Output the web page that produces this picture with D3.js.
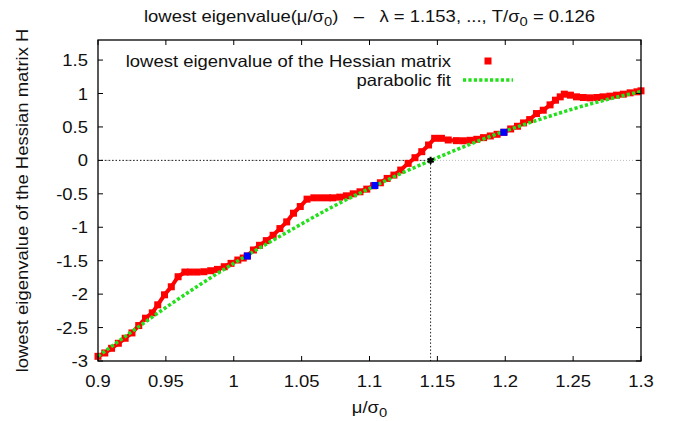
<!DOCTYPE html>
<html>
<head>
<meta charset="utf-8">
<script src="https://cdn.jsdelivr.net/npm/d3@7"></script>
<style>
  body { margin: 0; background: #fff; }
  svg { font-family: "Liberation Sans", Arial, sans-serif; }
</style>
</head>
<body>
<svg id="chart" width="683" height="421"></svg>
<script>
// eigenvalue samples (mu / sigma0 , lowest eigenvalue)
const muValues = [0.900, 0.905, 0.910, 0.915, 0.920, 0.925, 0.930, 0.935, 0.940, 0.944,
  0.949, 0.954, 0.959, 0.964, 0.968, 0.973, 0.978, 0.983, 0.988, 0.993,
  0.998, 1.003, 1.007, 1.010, 1.0145, 1.019, 1.024, 1.029, 1.034, 1.039,
  1.044, 1.049, 1.054, 1.059, 1.064, 1.069, 1.073, 1.078, 1.083, 1.088,
  1.093, 1.098, 1.103, 1.108, 1.113, 1.118, 1.123, 1.1285, 1.1335, 1.1385,
  1.1435, 1.148, 1.153, 1.158, 1.164, 1.169, 1.174, 1.179, 1.184, 1.189,
  1.194, 1.199, 1.204, 1.209, 1.2135, 1.218, 1.223, 1.228, 1.233, 1.237,
  1.2405, 1.2435, 1.248, 1.2525, 1.2575, 1.2625, 1.2675, 1.272, 1.277, 1.282,
  1.287, 1.292, 1.297, 1.300];
const eigenValues = [-2.93, -2.88, -2.81, -2.735, -2.66, -2.58, -2.47, -2.36, -2.28, -2.16,
  -2.01, -1.89, -1.74, -1.67, -1.67, -1.67, -1.665, -1.65, -1.63, -1.59,
  -1.54, -1.49, -1.46, -1.43, -1.34, -1.27, -1.20, -1.12, -1.02, -0.92,
  -0.79, -0.69, -0.58, -0.56, -0.56, -0.56, -0.56, -0.55, -0.53, -0.50,
  -0.47, -0.43, -0.38, -0.335, -0.27, -0.22, -0.145, -0.045, 0.04, 0.13,
  0.23, 0.33, 0.33, 0.305, 0.295, 0.293, 0.30, 0.315, 0.34, 0.365,
  0.39, 0.42, 0.47, 0.51, 0.56, 0.61, 0.70, 0.75, 0.83, 0.90,
  0.95, 0.99, 0.975, 0.95, 0.94, 0.935, 0.94, 0.95, 0.96, 0.975,
  0.99, 1.01, 1.025, 1.04];

// parabolic fit
const fitMu = [0.900, 0.925, 0.950, 0.975, 1.000, 1.025, 1.050, 1.075, 1.100,
  1.125, 1.150, 1.175, 1.200, 1.225, 1.250, 1.275, 1.300];
const fitValues = [-2.93, -2.56, -2.20, -1.86, -1.54, -1.24, -0.95, -0.67, -0.42,
  -0.18, 0.04, 0.25, 0.44, 0.61, 0.77, 0.91, 1.03];

// points used by the fit (blue) and the zero crossing (black)
const fitPointsMu = [1.010, 1.104, 1.199];
const fitPointsVal = [-1.43, -0.375, 0.42];
const zeroMu = 1.145;

const xTicks = [0.9, 0.95, 1, 1.05, 1.1, 1.15, 1.2, 1.25, 1.3];
const xTickLabels = ['0.9', '0.95', '1', '1.05', '1.1', '1.15', '1.2', '1.25', '1.3'];
const yTicks = [-3, -2.5, -2, -1.5, -1, -0.5, 0, 0.5, 1, 1.5];
const yTickLabels = ['-3', '-2.5', '-2', '-1.5', '-1', '-0.5', '0', '0.5', '1', '1.5'];

const svg = d3.select('#chart');
const margin = { top: 40, right: 42, bottom: 60, left: 98 };
const width = 683 - margin.left - margin.right;
const height = 421 - margin.top - margin.bottom;
const fontSize = 16.5;
const stretch = 1.12; // the reference lettering is a bit wider than Liberation Sans

const x = d3.scaleLinear().domain([0.9, 1.3]).range([margin.left, margin.left + width]);
const y = d3.scaleLinear().domain([-3, 1.8]).range([margin.top + height, margin.top]);

// text placed at (tx, ty), widened horizontally
function label(tx, ty, anchor, rotate) {
  return svg.append('text')
    .attr('transform', `translate(${tx},${ty})${rotate ? ' rotate(-90)' : ''} scale(${stretch},1)`)
    .attr('text-anchor', anchor)
    .attr('font-size', fontSize)
    .attr('fill', '#111');
}

// zero line and crossing guides
svg.append('line')
  .attr('x1', x(0.9)).attr('x2', x(1.3))
  .attr('y1', y(0)).attr('y2', y(0))
  .attr('stroke', '#bbb').attr('stroke-width', 1).attr('stroke-dasharray', '1,2');
svg.append('line')
  .attr('x1', x(0.9)).attr('x2', x(zeroMu))
  .attr('y1', y(0)).attr('y2', y(0))
  .attr('stroke', '#222').attr('stroke-width', 1).attr('stroke-dasharray', '1.5,2');
svg.append('line')
  .attr('x1', x(zeroMu)).attr('x2', x(zeroMu))
  .attr('y1', y(0)).attr('y2', y(-3))
  .attr('stroke', '#222').attr('stroke-width', 1).attr('stroke-dasharray', '1.5,2');

// red data
const data = muValues.map((m, i) => [m, eigenValues[i]]);
svg.append('path')
  .datum(data)
  .attr('fill', 'none')
  .attr('stroke', '#f00')
  .attr('stroke-width', 4)
  .attr('d', d3.line().x(d => x(d[0])).y(d => y(d[1])));
svg.selectAll('.pt')
  .data(data)
  .enter()
  .append('rect')
  .attr('class', 'pt')
  .attr('x', d => x(d[0]) - 3.5)
  .attr('y', d => y(d[1]) - 3.5)
  .attr('width', 7).attr('height', 7)
  .attr('fill', '#f00');

// green parabolic fit
const fit = fitMu.map((m, i) => [m, fitValues[i]]);
svg.append('path')
  .datum(fit)
  .attr('fill', 'none')
  .attr('stroke', '#22e01a')
  .attr('stroke-width', 3.5)
  .attr('stroke-dasharray', '3.2,2.2')
  .attr('d', d3.line().curve(d3.curveNatural).x(d => x(d[0])).y(d => y(d[1])));

// blue fit points
svg.selectAll('.fp')
  .data(fitPointsMu)
  .enter()
  .append('rect')
  .attr('x', (d) => x(d) - 3.5)
  .attr('y', (d, i) => y(fitPointsVal[i]) - 3.5)
  .attr('width', 7).attr('height', 7)
  .attr('fill', '#00f');

// black zero-crossing marker
svg.append('path')
  .attr('transform', `translate(${x(zeroMu)},${y(0)})`)
  .attr('d', d3.symbol(d3.symbolAsterisk, 36)())
  .attr('fill', 'none').attr('stroke', '#000').attr('stroke-width', 2);
svg.append('rect')
  .attr('x', x(zeroMu) - 2).attr('y', y(0) - 2)
  .attr('width', 4).attr('height', 4).attr('fill', '#000');

// frame with inward ticks on all sides
svg.append('rect')
  .attr('x', margin.left).attr('y', margin.top)
  .attr('width', width).attr('height', height)
  .attr('fill', 'none').attr('stroke', '#000').attr('stroke-width', 1.3);

const tickLen = 5;
const ticks = svg.append('g').attr('stroke', '#000').attr('stroke-width', 1);
xTicks.forEach(t => {
  ticks.append('line').attr('x1', x(t)).attr('x2', x(t))
    .attr('y1', y(-3)).attr('y2', y(-3) - tickLen);
  ticks.append('line').attr('x1', x(t)).attr('x2', x(t))
    .attr('y1', margin.top).attr('y2', margin.top + tickLen);
});
yTicks.forEach(t => {
  ticks.append('line').attr('x1', margin.left).attr('x2', margin.left + tickLen)
    .attr('y1', y(t)).attr('y2', y(t));
  ticks.append('line').attr('x1', margin.left + width).attr('x2', margin.left + width - tickLen)
    .attr('y1', y(t)).attr('y2', y(t));
});

// tick labels
xTicks.forEach((t, i) => {
  label(x(t), margin.top + height + 26, 'middle').text(xTickLabels[i]);
});
yTicks.forEach((t, i) => {
  label(margin.left - 10, y(t) + 6, 'end').text(yTickLabels[i]);
});

// axis titles
const xt = label(margin.left + width / 2, 413, 'middle');
xt.append('tspan').text('μ/σ');
xt.append('tspan').attr('baseline-shift', '-25%').attr('font-size', fontSize * 0.8).text('0');

label(28, margin.top + height / 2, 'middle', true)
  .text('lowest eigenvalue of the Hessian matrix H');

// title
const title = label(margin.left + width / 2, 22, 'middle').attr('xml:space', 'preserve');
title.append('tspan').text('lowest eigenvalue(μ/σ');
title.append('tspan').attr('baseline-shift', '-25%').attr('font-size', fontSize * 0.8).text('0');
title.append('tspan').text(')   –   λ = 1.153, ..., T/σ');
title.append('tspan').attr('baseline-shift', '-25%').attr('font-size', fontSize * 0.8).text('0');
title.append('tspan').text(' = 0.126');

// legend
const legX = 451;
label(legX, 67, 'end').text('lowest eigenvalue of the Hessian matrix');
svg.append('rect').attr('x', 484.5).attr('y', 57.5).attr('width', 7).attr('height', 7).attr('fill', '#f00');
label(legX, 86, 'end').text('parabolic fit');
svg.append('line').attr('x1', 463).attr('x2', 513).attr('y1', 80).attr('y2', 80)
  .attr('stroke', '#22e01a').attr('stroke-width', 3.5).attr('stroke-dasharray', '3.2,2.2');
</script>
</body>
</html>
